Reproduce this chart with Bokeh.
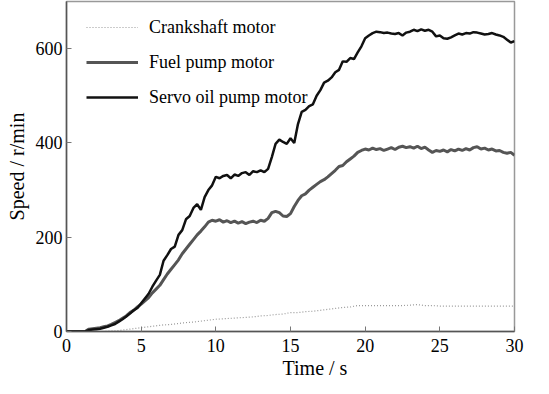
from bokeh.plotting import figure
from bokeh.models import Range1d, Legend, LegendItem, FixedTicker, Title
from bokeh.embed import file_html
from bokeh.resources import INLINE

# ---------------- data ----------------
t_fast = [i * 0.25 for i in range(121)]

servo = [0, 0, 0, 0, 0, 0, 3, 4, 5, 6, 8, 10, 13, 16, 21, 26,
         32, 38, 45, 50, 60, 70, 80, 95, 108, 120, 150, 162, 175, 180, 205, 215,
         238, 245, 262, 270, 258, 285, 300, 310, 328, 325, 330, 332, 325, 333, 330, 336,
         338, 332, 340, 338, 342, 338, 345, 370, 398, 407, 402, 398, 410, 400, 440, 466,
         470, 478, 482, 500, 512, 528, 532, 539, 550, 555, 573, 572, 580, 578, 592, 605,
         622, 628, 633, 636, 635, 633, 634, 632, 631, 633, 628, 634, 636, 640, 637, 641,
         638, 640, 636, 626, 628, 622, 621, 624, 628, 632, 630, 633, 632, 635, 634, 632,
         630, 631, 633, 630, 628, 625, 619, 613, 616, 610, 606]

fuel = [0, 0, 0, 0, 0, 0, 5, 6, 7, 8, 10, 12, 15, 19, 23, 28,
        33, 40, 45, 52, 58, 65, 72, 82, 90, 98, 110, 122, 132, 142, 152, 165,
        175, 185, 195, 205, 213, 222, 232, 236, 234, 237, 232, 235, 231, 234, 230, 233,
        229, 232, 234, 231, 236, 234, 240, 252, 255, 252, 245, 244, 250, 265, 278, 288,
        292, 300, 306, 312, 318, 322, 328, 335, 342, 350, 352, 360, 366, 372, 380, 384,
        387, 385, 389, 386, 388, 384, 387, 390, 386, 391, 393, 390, 392, 389, 393, 388,
        391, 385, 380, 384, 382, 385, 381, 386, 383, 387, 384, 388, 385, 390, 392, 387,
        389, 385, 387, 383, 384, 380, 378, 380, 374]

t_slow = [i * 0.5 for i in range(61)]
crank = [0, 0, 0, 0, 0, 0, 1, 2, 4, 6, 8, 10, 12, 14, 15, 17,
         19, 20, 22, 24, 26, 27, 28, 29, 30, 31, 33, 34, 36, 37, 40, 40,
         42, 43, 45, 47, 49, 51, 52, 55, 55, 55, 55, 55, 55, 55, 56, 57,
         55, 55, 54, 54, 54, 54, 54, 54, 54, 54, 54, 54, 54]

x_ticks = [0, 5, 10, 15, 20, 25, 30]
y_ticks = [0, 200, 400, 600]
names = ["Crankshaft motor", "Fuel pump motor", "Servo oil pump motor"]

SERIF = "Liberation Serif"

p = figure(width=533, height=378, output_backend="svg", toolbar_location=None,
           x_range=Range1d(0, 30), y_range=Range1d(0, 700),
           min_border_left=66, min_border_right=19, min_border_top=1,
           min_border_bottom=20)
p.grid.visible = False
p.outline_line_color = "#999999"
p.outline_line_width = 1.5
p.background_fill_color = "white"
p.border_fill_color = "white"

for ax, ticks in ((p.xaxis[0], x_ticks), (p.yaxis[0], y_ticks)):
    ax.ticker = FixedTicker(ticks=ticks)
    ax.major_tick_in = 5
    ax.major_tick_out = 0
    ax.minor_tick_line_color = None
    ax.axis_line_color = "#555555"
    ax.axis_line_width = 1.5
    ax.major_tick_line_color = "#777777"
    ax.major_label_text_font = SERIF
    ax.major_label_text_font_size = "18px"
    ax.major_label_text_font_style = "normal"
    ax.major_label_text_color = "black"
    ax.axis_label_text_font = SERIF
    ax.axis_label_text_font_size = "20px"
    ax.axis_label_text_font_style = "normal"
    ax.axis_label_text_color = "black"

p.xaxis.major_label_standoff = 7
p.yaxis.major_label_standoff = 4
p.yaxis.axis_label = "Speed / r/min"
p.yaxis.axis_label_standoff = 5

x_title = Title(text="Time / s", align="left", offset=216, standoff=0,
                text_font=SERIF, text_font_size="20px", text_font_style="normal",
                text_color="black")
p.add_layout(x_title, "below")

r_c = p.line(t_slow, crank, line_color="#9a9a9a", line_width=1.2, line_dash="1 2")
r_f = p.line(t_fast, fuel, line_color="#555555", line_width=3)
r_s = p.line(t_fast, servo, line_color="#111111", line_width=2.5)

legend = Legend(items=[LegendItem(label=names[0], renderers=[r_c]),
                       LegendItem(label=names[1], renderers=[r_f]),
                       LegendItem(label=names[2], renderers=[r_s])],
                location=(20, 222), orientation="vertical",
                glyph_width=52, glyph_height=24, spacing=11, padding=0, margin=0,
                label_standoff=11, label_text_font=SERIF, label_text_font_style="normal",
                label_text_font_size="18px",
                label_text_color="black", background_fill_alpha=0, border_line_alpha=0)
p.add_layout(legend, "center")

open("out.html", "w").write(file_html(p, INLINE))
